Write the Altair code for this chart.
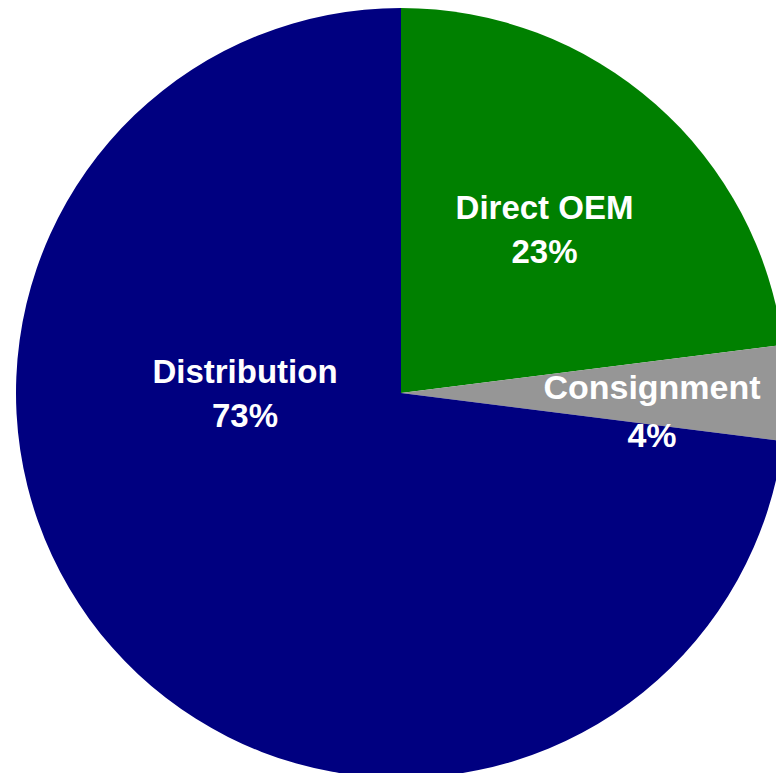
import altair as alt
import pandas as pd

categories = ["Direct OEM", "Consignment", "Distribution"]
shares = [23, 4, 73]
order = [1, 2, 3]
colors = ["#008000", "#969696", "#000080"]

df = pd.DataFrame({"category": categories, "share": shares, "ord": order})

theta_scale = alt.Scale(domain=[0, 100], range=[0, 6.283185307179586])
cx, cy = alt.value(393), alt.value(385)

base = alt.Chart(df).transform_stack(
    stack="share", groupby=[], as_=["s0", "s1"], sort=[alt.SortField("ord")]
).transform_calculate(
    mid="(datum.s0 + datum.s1) / 2",
    label="datum.category + '\\n' + datum.share + '%'",
)

arcs = base.mark_arc(radius=385, clip=True).encode(
    theta=alt.Theta("s0:Q", scale=theta_scale),
    theta2="s1:Q",
    color=alt.Color("category:N", scale=alt.Scale(domain=categories, range=colors), legend=None),
    x=cx, y=cy,
)

def label(cat, r, dx, dy, size, lh):
    return base.mark_text(
        radius=r, dx=dx, dy=dy, font="Liberation Sans", fontSize=size, fontWeight="bold",
        color="white", align="center", baseline="middle", lineBreak="\n", lineHeight=lh,
    ).encode(
        theta=alt.Theta("mid:Q", scale=theta_scale), text="label:N", x=cx, y=cy,
    ).transform_filter(alt.datum.category == cat)

chart = alt.layer(
    arcs,
    label("Direct OEM", 217, 0, -21, 33, 44),
    label("Consignment", 251, 0, -4, 34, 48),
    label("Distribution", 208, 0, -158, 33, 44),
).properties(width=768, height=765, padding=0).configure_view(stroke=None)

chart.save("out.html", embed_options={"renderer": "svg", "actions": False})
